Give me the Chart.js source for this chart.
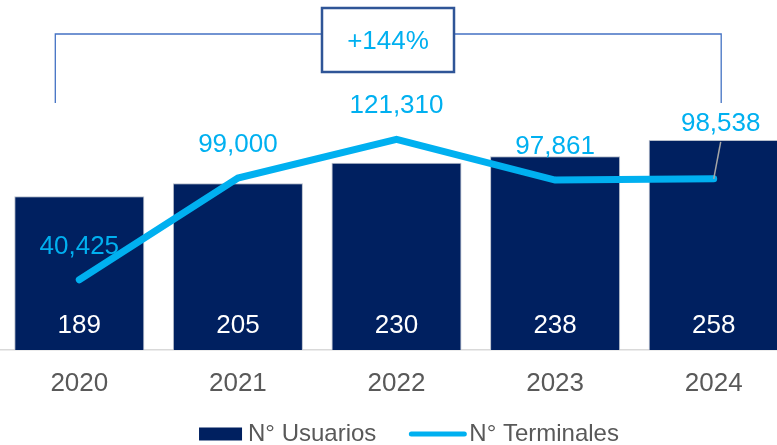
<!DOCTYPE html>
<html>
<head>
<meta charset="utf-8">
<script src="https://cdn.jsdelivr.net/npm/chart.js@4.4.1/dist/chart.umd.min.js"></script>
<style>
  html, body { margin: 0; padding: 0; background: #ffffff; overflow: hidden; }
  #wrap { width: 793px; height: 445px; position: relative; }
</style>
</head>
<body>
<div id="wrap"><canvas id="c"></canvas></div>
<script>
// Users per year (bars) and installed terminals per year (line)
const years = ['2020', '2021', '2022', '2023', '2024'];
const usuarios = [189, 205, 230, 238, 258];
const terminales = [40425, 99000, 121310, 97861, 98538];
const seriesNames = ['N° Usuarios', 'N° Terminales'];

const NAVY = '#002060';
const CYAN = '#00B0F0';
const GREY_TEXT = '#595959';
const FONT = '"Liberation Sans", Arial, sans-serif';

const fmt = v => v.toLocaleString('en-US');

// Value labels: counts inside the bar bases, terminal totals above the line
const valueLabels = {
  id: 'valueLabels',
  afterDatasetsDraw(chart) {
    const ctx = chart.ctx;
    const barMeta = chart.getDatasetMeta(0);
    const lineMeta = chart.getDatasetMeta(1);
    const base = chart.scales.y.getPixelForValue(0);
    ctx.save();
    ctx.font = '26px ' + FONT;
    ctx.textAlign = 'center';
    ctx.textBaseline = 'middle';
    ctx.fillStyle = '#ffffff';
    barMeta.data.forEach((bar, i) => {
      ctx.fillText(fmt(usuarios[i]), bar.x, base - 24);
    });
    ctx.fillStyle = CYAN;
    lineMeta.data.forEach((pt, i) => {
      const last = i === lineMeta.data.length - 1;
      const lx = pt.x + (last ? 7 : 0);
      const ly = pt.y - (last ? 55 : 33);
      if (last) {
        ctx.save();
        ctx.strokeStyle = '#A6A6A6';
        ctx.lineWidth = 1.5;
        ctx.beginPath();
        ctx.moveTo(pt.x, pt.y);
        ctx.lineTo(lx, ly + 18);
        ctx.stroke();
        ctx.restore();
      }
      ctx.fillText(fmt(terminales[i]), lx, ly);
    });
    ctx.restore();
  }
};

// Growth bracket spanning first to last year with the percentage box
const growthBracket = {
  id: 'growthBracket',
  afterDraw(chart) {
    const ctx = chart.ctx;
    const xs = chart.scales.x;
    const x0 = xs.getPixelForValue(0) - 24;
    const x1 = xs.getPixelForValue(years.length - 1) + 7.5;
    const yTop = 34, yEnd = 103;
    const bx0 = 322, bx1 = 454, by0 = 8, by1 = 72;
    const growth = Math.round((terminales[terminales.length - 1] / terminales[0] - 1) * 100);
    ctx.save();
    ctx.strokeStyle = '#4472C4';
    ctx.lineWidth = 1.3;
    ctx.beginPath();
    ctx.moveTo(x0, yEnd); ctx.lineTo(x0, yTop); ctx.lineTo(bx0, yTop);
    ctx.moveTo(bx1, yTop); ctx.lineTo(x1, yTop); ctx.lineTo(x1, yEnd);
    ctx.stroke();
    ctx.fillStyle = '#ffffff';
    ctx.fillRect(bx0, by0, bx1 - bx0, by1 - by0);
    ctx.strokeStyle = '#2F5597';
    ctx.lineWidth = 2.5;
    ctx.strokeRect(bx0, by0, bx1 - bx0, by1 - by0);
    ctx.fillStyle = CYAN;
    ctx.font = '26px ' + FONT;
    ctx.textAlign = 'center';
    ctx.textBaseline = 'middle';
    ctx.fillText('+' + growth + '%', (bx0 + bx1) / 2, 42);
    ctx.restore();
  }
};

// Bottom legend: filled block for the bars, thick stroke for the line
const bottomLegend = {
  id: 'bottomLegend',
  afterDraw(chart) {
    const ctx = chart.ctx;
    ctx.save();
    ctx.font = '24px ' + FONT;
    ctx.textBaseline = 'middle';
    ctx.textAlign = 'left';
    const barSw = 43, lineSw = 57, gapA = 6, gapB = 3, gapItems = 33;
    const w0 = ctx.measureText(seriesNames[0]).width;
    const w1 = ctx.measureText(seriesNames[1]).width;
    const total = barSw + gapA + w0 + gapItems + lineSw + gapB + w1;
    const cy = 434;
    let x = 409 - total / 2;
    ctx.fillStyle = NAVY;
    ctx.fillRect(x, cy - 6.5, barSw, 13);
    x += barSw + gapA;
    ctx.fillStyle = GREY_TEXT;
    ctx.fillText(seriesNames[0], x, cy);
    x += w0 + gapItems;
    ctx.strokeStyle = CYAN;
    ctx.lineWidth = 5;
    ctx.lineCap = 'round';
    ctx.beginPath();
    ctx.moveTo(x + 2, cy); ctx.lineTo(x + lineSw - 2, cy);
    ctx.stroke();
    x += lineSw + gapB;
    ctx.fillText(seriesNames[1], x, cy);
    ctx.restore();
  }
};

new Chart(document.getElementById('c'), {
  data: {
    labels: years,
    datasets: [
      {
        type: 'bar',
        label: seriesNames[0],
        data: usuarios,
        yAxisID: 'y',
        backgroundColor: NAVY,
        borderColor: '#B8BFCC',
        borderWidth: 1,
        categoryPercentage: 1,
        barPercentage: 0.82,
        order: 2
      },
      {
        type: 'line',
        label: seriesNames[1],
        data: terminales,
        yAxisID: 'y1',
        borderColor: CYAN,
        backgroundColor: CYAN,
        borderWidth: 7,
        borderCapStyle: 'round',
        borderJoinStyle: 'miter',
        pointRadius: 0,
        tension: 0,
        order: 1
      }
    ]
  },
  options: {
    responsive: true,
    maintainAspectRatio: false,
    animation: false,
    devicePixelRatio: 1,
    layout: { padding: { top: 0, left: 0, right: 0, bottom: 35 } },
    plugins: { legend: { display: false }, tooltip: { enabled: false } },
    scales: {
      x: {
        grid: { display: false, drawTicks: false },
        border: { display: true, color: '#D9D9D9', width: 1.5 },
        ticks: { color: GREY_TEXT, font: { family: FONT, size: 26 }, padding: 18 },
        afterFit(scale) { scale.height = 60; }
      },
      y: { display: false, min: 0, max: 430 },
      y1: { display: false, min: 0, max: 201500, position: 'right' }
    }
  },
  plugins: [valueLabels, growthBracket, bottomLegend]
});
</script>
</body>
</html>
